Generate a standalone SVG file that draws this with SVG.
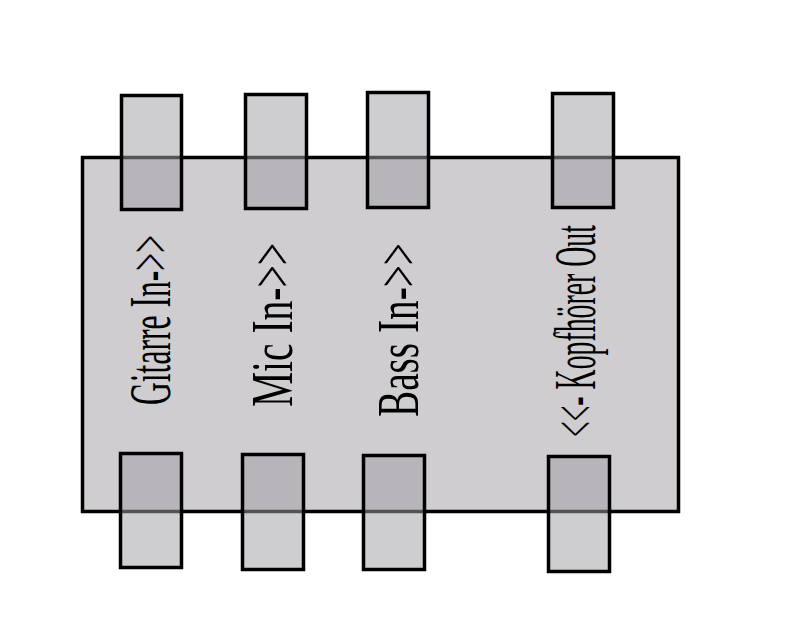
<svg xmlns="http://www.w3.org/2000/svg" width="794" height="632" viewBox="0 0 794 632">
<style>
.body{fill:#cfcdd0;stroke:#000;stroke-width:3.5}
.tab{fill:#a2a0a4;fill-opacity:0.52;stroke:#000;stroke-width:3.5}
.lbl{font-family:"Liberation Serif","DejaVu Serif",serif;font-size:60px;fill:#000}
</style>
<rect width="794" height="632" fill="#fff"/>
<g id="box">
<rect class="body" x="82.5" y="157.5" width="596" height="354"/>
</g>
<g id="tabs-top">
<rect id="tab-t1" class="tab" x="121.5" y="95.5" width="60" height="114"/>
<rect id="tab-t2" class="tab" x="245.5" y="94.5" width="61" height="114"/>
<rect id="tab-t3" class="tab" x="367.5" y="92.5" width="61" height="115"/>
<rect id="tab-t4" class="tab" x="552.5" y="93.5" width="61" height="114"/>
</g>
<g id="tabs-bottom">
<rect id="tab-b1" class="tab" x="120.5" y="453.5" width="61" height="114"/>
<rect id="tab-b2" class="tab" x="242.5" y="454.5" width="61" height="115"/>
<rect id="tab-b3" class="tab" x="363.5" y="455.5" width="61" height="114"/>
<rect id="tab-b4" class="tab" x="548.5" y="456.5" width="61" height="115"/>
</g>
<g id="labels">
<text id="gitarre" class="lbl" transform="translate(170,405) rotate(-90)" textLength="170" lengthAdjust="spacingAndGlyphs">Gitarre In-&gt;&gt;</text>
<text id="mic" class="lbl" transform="translate(292,407) rotate(-90)" textLength="164" lengthAdjust="spacingAndGlyphs">Mic In-&gt;&gt;</text>
<text id="bass" class="lbl" transform="translate(418,417) rotate(-90)" textLength="174" lengthAdjust="spacingAndGlyphs">Bass In-&gt;&gt;</text>
<text id="kopf" class="lbl" transform="translate(595,437) rotate(-90)" textLength="212" lengthAdjust="spacingAndGlyphs">&lt;&lt;- Kopfhörer Out</text>
</g>
</svg>
